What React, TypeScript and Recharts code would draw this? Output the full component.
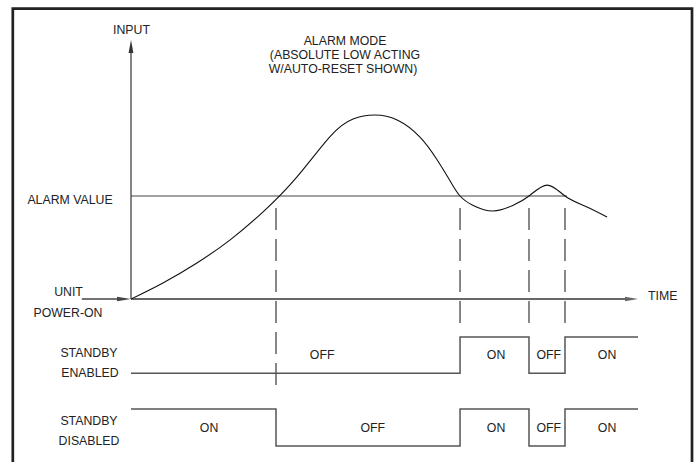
import React from 'react';
import { ComposedChart, Line, XAxis, YAxis, ReferenceLine, ReferenceDot } from 'recharts';

// Input curve (time units 0..100, input units with alarm value = 50)
const curveTime = [0, 6.3, 13.0, 19.5, 26.0, 32.7, 39.3, 43.8, 48.1, 52.5, 57.0, 60.4, 62.9, 64.9, 67.5, 71.4, 75.3, 78.5, 82.1, 85.6, 89.7, 93.9];
const curveInput = [0, 7.8, 17.5, 28.6, 42.2, 59.2, 79.0, 87.4, 89.3, 86.9, 78.6, 67.5, 57.5, 50, 45.4, 42.7, 45.4, 50, 55.3, 50, 44.9, 39.8];

const alarmValue = 50;
const alarmLineEnd = 86;
const timeAxisEnd = 100;
const inputAxisTop = 125.7;
const unitArrowStart = -9.7;

// Alarm crossing times (dashed markers)
const crossingTimes = [28.6, 64.9, 78.5, 85.6];
const dashTop = 44.2;
const dashBottoms = [-41.7, -12, -12, -12];

// Standby enabled output trace
const enabledTimes = [0, 64.9, 78.5, 85.6, 100];
const enabledLevels = [-36, -18.4, -36, -18.4, -18.4];
const enabledLabelText = ['OFF', 'ON', 'OFF', 'ON'];
const enabledLabelTimes = [37.7, 72.0, 82.4, 93.9];
const enabledLabelLevel = -27.2;

// Standby disabled output trace
const disabledTimes = [0, 28.6, 64.9, 78.5, 85.6, 100];
const disabledLevels = [-53.4, -71.4, -53.4, -71.4, -53.4, -53.4];
const disabledLabelText = ['ON', 'OFF', 'ON', 'OFF', 'ON'];
const disabledLabelTimes = [15.4, 47.7, 72.0, 82.4, 93.9];
const disabledLabelLevel = -62.4;

const curveData = curveTime.map((t, i) => ({ t, v: curveInput[i] }));
const enabledData = enabledTimes.map((t, i) => ({ t, v: enabledLevels[i] }));
const disabledData = disabledTimes.map((t, i) => ({ t, v: disabledLevels[i] }));

const FONT = '"Liberation Sans", Arial, sans-serif';
const FS = 12.3;
const TXT = '#222';

const arrowShape = (len: number, half: number, color: string, width: number) => (p: any) => {
  const { x1, y1, x2, y2 } = p;
  const dx = x2 - x1;
  const dy = y2 - y1;
  const L = Math.hypot(dx, dy) || 1;
  const ux = dx / L;
  const uy = dy / L;
  const bx = x2 - ux * len;
  const by = y2 - uy * len;
  const px = -uy * half;
  const py = ux * half;
  return (
    <g>
      <line x1={x1} y1={y1} x2={bx} y2={by} stroke={color} strokeWidth={width} />
      <polygon points={`${x2},${y2} ${bx + px},${by + py} ${bx - px},${by - py}`} fill={color} />
    </g>
  );
};

const textShape = (label: string) => (p: any) => (
  <text x={p.cx} y={p.cy} dy="0.35em" textAnchor="middle" fontFamily={FONT} fontSize={FS} fill={TXT}>
    {label}
  </text>
);

const T = (x: number, y: number, s: string, anchor: 'start' | 'middle' | 'end' = 'middle') => (
  <text x={x} y={y} textAnchor={anchor} fontFamily={FONT} fontSize={FS} fill={TXT}>{s}</text>
);

export default function App() {
  return (
    <div style={{ position: 'absolute', left: 0, top: 0, width: 696, height: 462, background: '#fff' }}>
      <ComposedChart width={696} height={462} margin={{ top: 41.5, right: 58, bottom: 8.5, left: 131 }}>
        <XAxis type="number" dataKey="t" domain={[0, 100]} hide allowDataOverflow />
        <YAxis type="number" dataKey="v" domain={[-75, 125]} hide allowDataOverflow />
        {/* Input axis */}
        <ReferenceLine
          ifOverflow="visible"
          segment={[{ x: 0, y: 0 }, { x: 0, y: inputAxisTop }]}
          shape={arrowShape(13, 2.4, '#333', 1.2)}
        />
        {/* Time axis */}
        <ReferenceLine
          ifOverflow="visible"
          segment={[{ x: 0, y: 0 }, { x: timeAxisEnd, y: 0 }]}
          shape={arrowShape(13, 2.2, '#666', 1.8)}
        />
        {/* Unit power-on arrow */}
        <ReferenceLine
          ifOverflow="visible"
          segment={[{ x: unitArrowStart, y: 0 }, { x: 0, y: 0 }]}
          shape={arrowShape(14, 2.2, '#444', 1.5)}
        />
        {/* Alarm value line */}
        <ReferenceLine
          ifOverflow="visible"
          segment={[{ x: 0, y: alarmValue }, { x: alarmLineEnd, y: alarmValue }]}
          stroke="#444"
          strokeWidth={1.2}
        />
        {crossingTimes.map((t, i) => (
          <ReferenceLine
            key={'d' + i}
            ifOverflow="visible"
            segment={[{ x: t, y: dashTop }, { x: t, y: dashBottoms[i] }]}
            stroke="#555"
            strokeWidth={1.4}
            strokeDasharray="22 9"
          />
        ))}
        <Line data={curveData} dataKey="v" type="natural" stroke="#111" strokeWidth={1.1} dot={false} isAnimationActive={false} />
        <Line data={enabledData} dataKey="v" type="stepAfter" stroke="#555" strokeWidth={1.5} dot={false} isAnimationActive={false} />
        <Line data={disabledData} dataKey="v" type="stepAfter" stroke="#555" strokeWidth={1.5} dot={false} isAnimationActive={false} />
        {enabledLabelTimes.map((t, i) => (
          <ReferenceDot key={'e' + i} x={t} y={enabledLabelLevel} r={1} ifOverflow="visible" shape={textShape(enabledLabelText[i])} />
        ))}
        {disabledLabelTimes.map((t, i) => (
          <ReferenceDot key={'s' + i} x={t} y={disabledLabelLevel} r={1} ifOverflow="visible" shape={textShape(disabledLabelText[i])} />
        ))}
      </ComposedChart>
      <svg width={696} height={462} style={{ position: 'absolute', left: 0, top: 0, pointerEvents: 'none' }}>
        <path d="M12.8,470 L12.8,8.7 L692,8.7 L692,470" fill="none" stroke="#222" strokeWidth={2.7} />
        {T(131.5, 34, 'INPUT')}
        {T(345, 44.5, 'ALARM MODE')}
        {T(345, 58.5, '(ABSOLUTE LOW ACTING')}
        {T(343, 72.5, 'W/AUTO-RESET SHOWN)')}
        {T(70, 203.5, 'ALARM VALUE')}
        {T(68.5, 296, 'UNIT')}
        {T(68, 316.5, 'POWER-ON')}
        {T(648, 300, 'TIME', 'start')}
        {T(89, 356.5, 'STANDBY')}
        {T(90, 376.5, 'ENABLED')}
        {T(89, 425, 'STANDBY')}
        {T(89, 445, 'DISABLED')}
      </svg>
    </div>
  );
}
